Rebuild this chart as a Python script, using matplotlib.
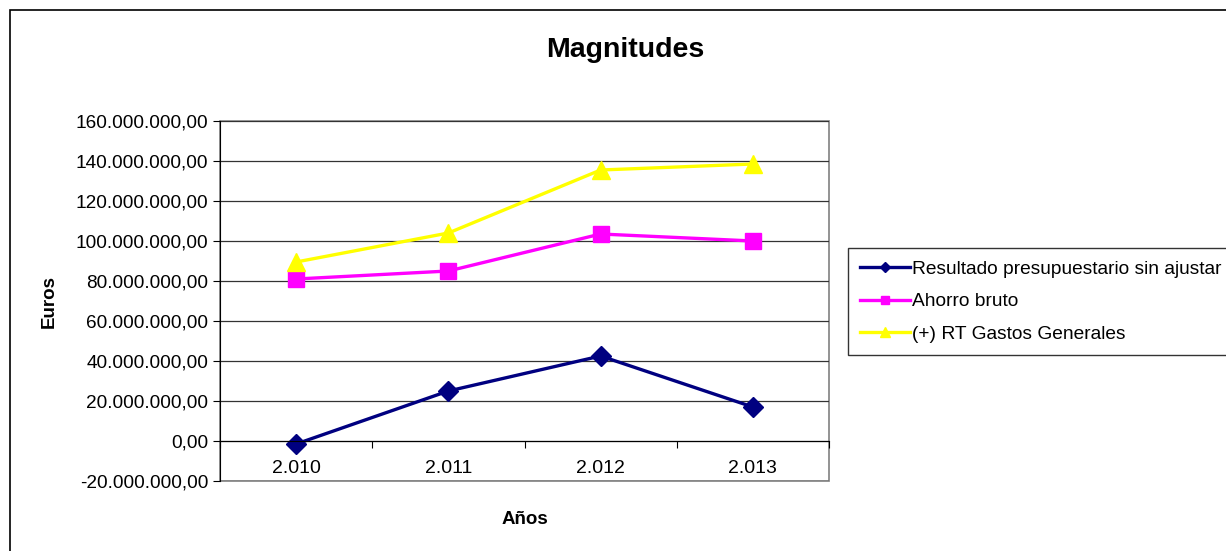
import matplotlib.pyplot as plt
from matplotlib.patches import Rectangle
from matplotlib.ticker import FuncFormatter, FixedLocator

plt.rcParams['font.family'] = ['Liberation Sans', 'DejaVu Sans']

anios = ['2.010', '2.011', '2.012', '2.013']
resultado = [-1.5e6, 25.0e6, 42.5e6, 17.0e6]
ahorro = [81.0e6, 85.0e6, 103.5e6, 100.0e6]
gastos = [89.5e6, 104.0e6, 135.5e6, 138.5e6]
nombres = ['Resultado presupuestario sin ajustar', 'Ahorro bruto',
           '(+) RT Gastos Generales']


def euros(v, pos):
    s = '{:,.2f}'.format(v)
    return s.replace(',', 'X').replace('.', ',').replace('X', '.')


fig = plt.figure(figsize=(12.26, 5.51), dpi=100)
ax = fig.add_axes([220 / 1226, 1 - 481 / 551, 609 / 1226, 360 / 551])

x = range(len(anios))
ax.plot(x, resultado, color='#000080', lw=2.4, marker='D', ms=10, label=nombres[0])
ax.plot(x, ahorro, color='#FF00FF', lw=2.4, marker='s', ms=11, label=nombres[1])
ax.plot(x, gastos, color='#FFFF00', lw=2.4, marker='^', ms=13, label=nombres[2])

ax.set_xlim(-0.5, 3.5)
ax.set_ylim(-20e6, 160e6)
ax.set_yticks([i * 20e6 for i in range(-1, 9)])
ax.yaxis.set_major_formatter(FuncFormatter(euros))
ax.grid(axis='y', color='#333333', lw=0.9)
ax.set_axisbelow(True)

# category axis crosses at zero, Excel style
ax.xaxis.set_major_locator(FixedLocator([-0.5, 0.5, 1.5, 2.5, 3.5]))
ax.xaxis.set_major_formatter(FuncFormatter(lambda v, p: ''))
ax.set_xticks(list(x), anios, minor=True)
ax.tick_params(axis='x', which='minor', length=0, labelsize=14, pad=13.5)
ax.tick_params(axis='x', which='major', length=5, direction='out', color='#000000')
ax.tick_params(axis='y', labelsize=13.7, length=5, color='#000000')

ax.spines['bottom'].set_position(('data', 0))
ax.spines['bottom'].set_color('#000000')
ax.spines['left'].set_color('#000000')
ax.spines['top'].set_visible(False)
ax.spines['right'].set_visible(False)
ax.add_patch(Rectangle((0, 0), 1, 1, transform=ax.transAxes, fill=False,
                       edgecolor='#808080', lw=1.2, clip_on=False, zorder=0.5))

ax.set_ylabel('Euros', fontsize=13.5, fontweight='bold', labelpad=13)
ax.set_xlabel('Años', fontsize=13.5, fontweight='bold')
ax.xaxis.set_label_coords(0.5, -0.083)
fig.text(625 / 1226, 1 - 50 / 551, 'Magnitudes', fontsize=20.5, fontweight='bold',
         ha='center', va='center')

leg = fig.legend(loc='upper left', bbox_to_anchor=(848 / 1226, 1 - 248 / 551),
                 fontsize=13.75, frameon=True, fancybox=False, edgecolor='#000000',
                 handlelength=2.6, handletextpad=0.1, borderpad=0.65,
                 labelspacing=0.8, markerscale=0.55, borderaxespad=0)
leg.get_frame().set_linewidth(1.0)

fig.patches.append(Rectangle((10 / 1226, -0.1), 1.2, 1.1 - 10 / 551,
                             transform=fig.transFigure, fill=False,
                             edgecolor='#000000', lw=1.2))

fig.savefig('out.png', dpi=100)
